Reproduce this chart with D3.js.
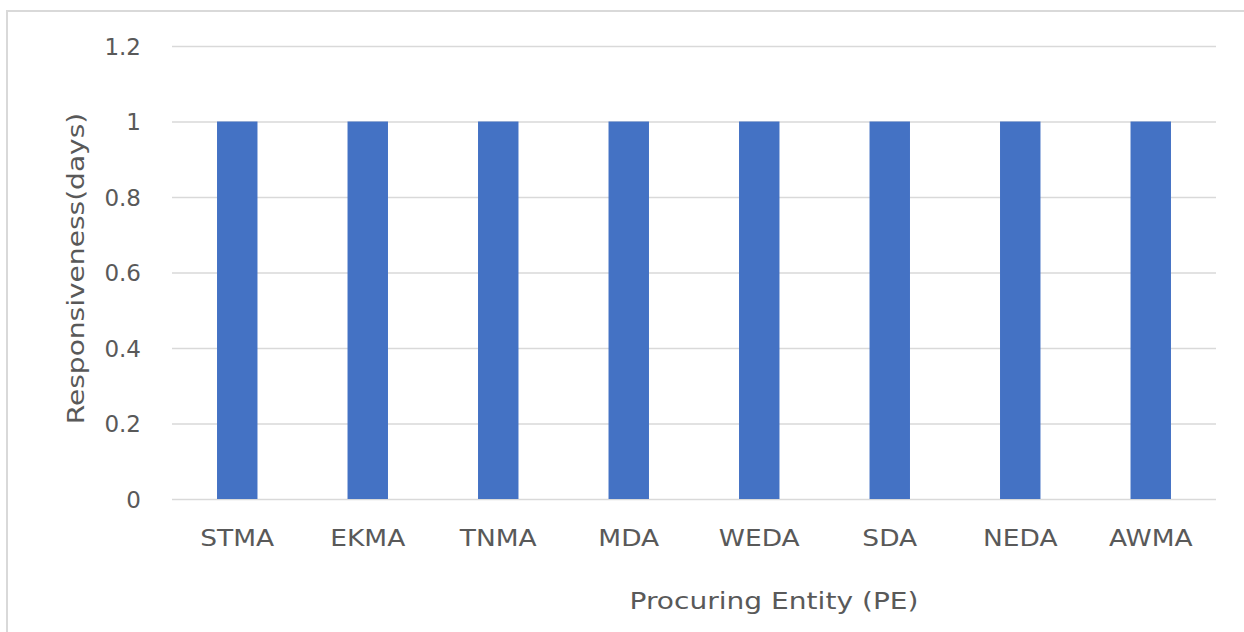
<!DOCTYPE html>
<html>
<head>
<meta charset="utf-8">
<script src="https://cdn.jsdelivr.net/npm/d3@7"></script>
<style>
  html, body { margin: 0; padding: 0; background: #fff; }
  svg { display: block; }
  text { font-family: "DejaVu Sans", "Noto Sans", sans-serif; fill: #595959; }
</style>
</head>
<body>
<svg id="chart" width="1244" height="632"></svg>
<script>
// Procuring entities and their responsiveness in days
const categories = ["STMA", "EKMA", "TNMA", "MDA", "WEDA", "SDA", "NEDA", "AWMA"];
const responsiveness = [1, 1, 1, 1, 1, 1, 1, 1];
const yTicks = [0, 0.2, 0.4, 0.6, 0.8, 1, 1.2];

const svg = d3.select("#chart");
const W = 1244, H = 632;
const margin = { left: 172, right: 28, top: 46, bottom: 133 };
const fontSize = "23px";

// Widen a text element's glyphs horizontally by a factor
function stretch(sel, factor) {
  sel.each(function () {
    const len = this.getComputedTextLength();
    d3.select(this)
      .attr("textLength", len * factor)
      .attr("lengthAdjust", "spacingAndGlyphs");
  });
}

// Chart frame (left and top edges visible in the canvas)
svg.append("rect")
  .attr("x", 7).attr("y", 11)
  .attr("width", W + 10).attr("height", H + 10)
  .attr("fill", "none").attr("stroke", "#d9d9d9").attr("stroke-width", 2);

const x = d3.scaleBand()
  .domain(categories)
  .range([margin.left, W - margin.right])
  .paddingInner(0.69).paddingOuter(0.345);

const y = d3.scaleLinear()
  .domain([0, 1.2])
  .range([H - margin.bottom, margin.top]);

// Horizontal gridlines and y tick labels
const yAxis = d3.axisLeft(y)
  .tickValues(yTicks)
  .tickSize(-(W - margin.right - margin.left))
  .tickPadding(31)
  .tickFormat(d => d3.format("~g")(d));

const gy = svg.append("g")
  .attr("transform", `translate(${margin.left},0)`)
  .call(yAxis);
gy.select(".domain").remove();
gy.selectAll(".tick line").attr("stroke", "#d9d9d9").attr("stroke-width", 1.5);
gy.selectAll(".tick text")
  .style("font-size", fontSize).attr("fill", "#595959").attr("dy", "0.36em");

// Bars
svg.append("g").selectAll("rect")
  .data(categories.map((c, i) => ({ c, v: responsiveness[i] })))
  .join("rect")
  .attr("x", d => x(d.c))
  .attr("y", d => y(d.v))
  .attr("width", x.bandwidth())
  .attr("height", d => y(0) - y(d.v))
  .attr("fill", "#4472c4");

// Category labels
const xAxis = d3.axisBottom(x).tickSize(0).tickPadding(0);
const gx = svg.append("g")
  .attr("transform", `translate(0,${y(0)})`)
  .call(xAxis);
gx.select(".domain").remove();
gx.selectAll(".tick text")
  .style("font-size", fontSize).attr("fill", "#595959")
  .attr("y", 47).attr("dy", 0)
  .call(stretch, 1.15);

// Axis titles
svg.append("text")
  .attr("transform", `translate(84,${(y(0) + y(1.2)) / 2 - 4}) rotate(-90)`)
  .attr("text-anchor", "middle")
  .style("font-size", fontSize)
  .text("Responsiveness(days)")
  .call(stretch, 1.22);

svg.append("text")
  .attr("x", 774).attr("y", 609)
  .attr("text-anchor", "middle")
  .style("font-size", fontSize)
  .text("Procuring Entity (PE)")
  .call(stretch, 1.22);
</script>
</body>
</html>
